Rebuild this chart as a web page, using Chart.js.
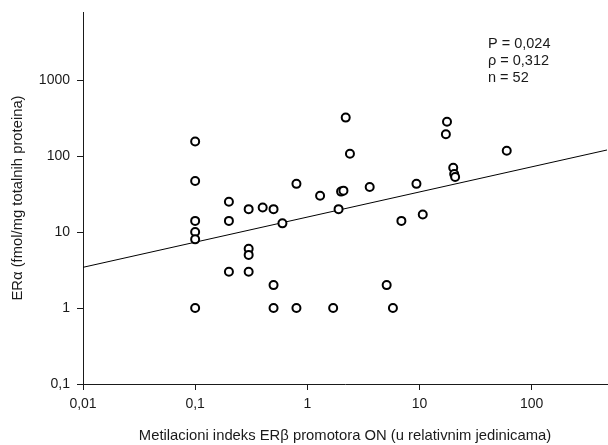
<!DOCTYPE html>
<html lang="sr">
<head>
    <meta charset="UTF-8">
    <title>ERα vs metilacioni indeks ERβ</title>
    <script src="https://cdn.jsdelivr.net/npm/chart.js"></script>
    <style>
        html, body { margin: 0; padding: 0; background: #fff; overflow: hidden; }
        /* canvas is a bit wider than the window: chart.js keeps ~5px right margin,
           the overflow hides it so the x axis runs to the window edge */
        #wrap { width: 608px; height: 445px; overflow: hidden; }
    </style>
</head>
<body>
    <div id="wrap">
        <canvas id="scatterChart" width="613" height="445"></canvas>
    </div>

    <script>
        // metilacioni indeks (x) i ERα (y), očitano sa slike
        const methIndex = [
            0.1, 0.1, 0.1, 0.1, 0.1, 0.1,
            0.2, 0.2, 0.2,
            0.3, 0.3, 0.3, 0.3,
            0.4,
            0.5, 0.5, 0.5,
            0.6,
            0.8, 0.8,
            1.3, 1.7, 1.9, 2.0, 2.1, 2.2, 2.4, 3.6,
            5.1, 5.8, 6.9, 9.4, 10.7,
            17.2, 17.6, 20.0, 20.4, 20.8, 60
        ];
        const erAlpha = [
            155, 47, 14, 10, 8, 1,
            25, 14, 3,
            20, 6, 5, 3,
            21,
            20, 2, 1,
            13,
            43, 1,
            30, 1, 20, 34, 35, 320, 107, 39,
            2, 1, 14, 43, 17,
            193, 283, 70, 58, 53, 117
        ];

        // regresiona prava (krajnje tačke)
        const fitX = [0.01, 470];
        const fitY = [3.43, 120];

        const xTicks = [0.01, 0.1, 1, 10, 100];
        const yTicks = [0.1, 1, 10, 100, 1000];

        const statLines = ['P = 0,024', 'ρ = 0,312', 'n = 52'];

        const FONT = '"Liberation Sans", Arial, sans-serif';
        const INK = '#1a1a1a';

        const points = methIndex.map((x, i) => ({ x: x, y: erAlpha[i] }));
        const fitPoints = fitX.map((x, i) => ({ x: x, y: fitY[i] }));

        const fmt = v => String(v).replace('.', ',');

        const statsPlugin = {
            id: 'stats',
            afterDraw(chart) {
                const ctx = chart.ctx;
                ctx.save();
                ctx.font = '14.5px ' + FONT;
                ctx.fillStyle = INK;
                ctx.textBaseline = 'alphabetic';
                statLines.forEach((t, i) => ctx.fillText(t, 488, 48 + i * 17));
                ctx.restore();
            }
        };

        function axisStyle(ticks, fixedSize, horizontal) {
            return {
                type: 'logarithmic',
                bounds: 'data',
                afterBuildTicks: scale => {
                    scale.ticks = ticks.map(v => ({ value: v }));
                },
                afterFit: scale => {
                    if (horizontal) scale.height = fixedSize;
                    else scale.width = fixedSize;
                    scale.paddingTop = 0;
                    scale.paddingBottom = 0;
                    scale.paddingLeft = 0;
                    scale.paddingRight = 0;
                },
                grid: {
                    drawOnChartArea: false,
                    drawTicks: true,
                    tickLength: 6,
                    color: INK,
                    lineWidth: 1
                },
                border: { display: true, color: INK, width: 1 },
                ticks: {
                    color: INK,
                    font: { family: FONT, size: 14 },
                    padding: horizontal ? 6 : 7,
                    maxRotation: 0,
                    autoSkip: false,
                    callback: v => fmt(v)
                }
            };
        }

        const xAxis = axisStyle(xTicks, 61, true);
        xAxis.min = 0.01;
        xAxis.max = 470;
        xAxis.title = {
            display: true,
            text: 'Metilacioni indeks ERβ promotora ON (u relativnim jedinicama)',
            color: INK,
            font: { family: FONT, size: 14.8 },
            padding: { top: 0, bottom: 0 }
        };

        const yAxis = axisStyle(yTicks, 83, false);
        yAxis.min = 0.1;
        yAxis.max = 7850;
        yAxis.title = {
            display: true,
            text: 'ERα (fmol/mg totalnih proteina)',
            color: INK,
            font: { family: FONT, size: 14.8 },
            padding: { top: 9, bottom: 0 }
        };

        new Chart(document.getElementById('scatterChart').getContext('2d'), {
            type: 'scatter',
            data: {
                datasets: [
                    {
                        data: points,
                        order: 0,
                        pointStyle: 'circle',
                        pointRadius: 4,
                        pointHoverRadius: 4,
                        borderWidth: 2,
                        pointBorderWidth: 2,
                        borderColor: '#000',
                        backgroundColor: '#fff'
                    },
                    {
                        type: 'line',
                        data: fitPoints,
                        order: 1,
                        showLine: true,
                        pointRadius: 0,
                        borderWidth: 1,
                        borderColor: '#000',
                        fill: false
                    }
                ]
            },
            options: {
                responsive: false,
                devicePixelRatio: 1,
                animation: false,
                layout: { padding: { left: 0, right: 0, top: 12, bottom: 0 } },
                plugins: {
                    legend: { display: false },
                    tooltip: { enabled: false }
                },
                scales: { x: xAxis, y: yAxis }
            },
            plugins: [statsPlugin]
        });
    </script>
</body>
</html>
